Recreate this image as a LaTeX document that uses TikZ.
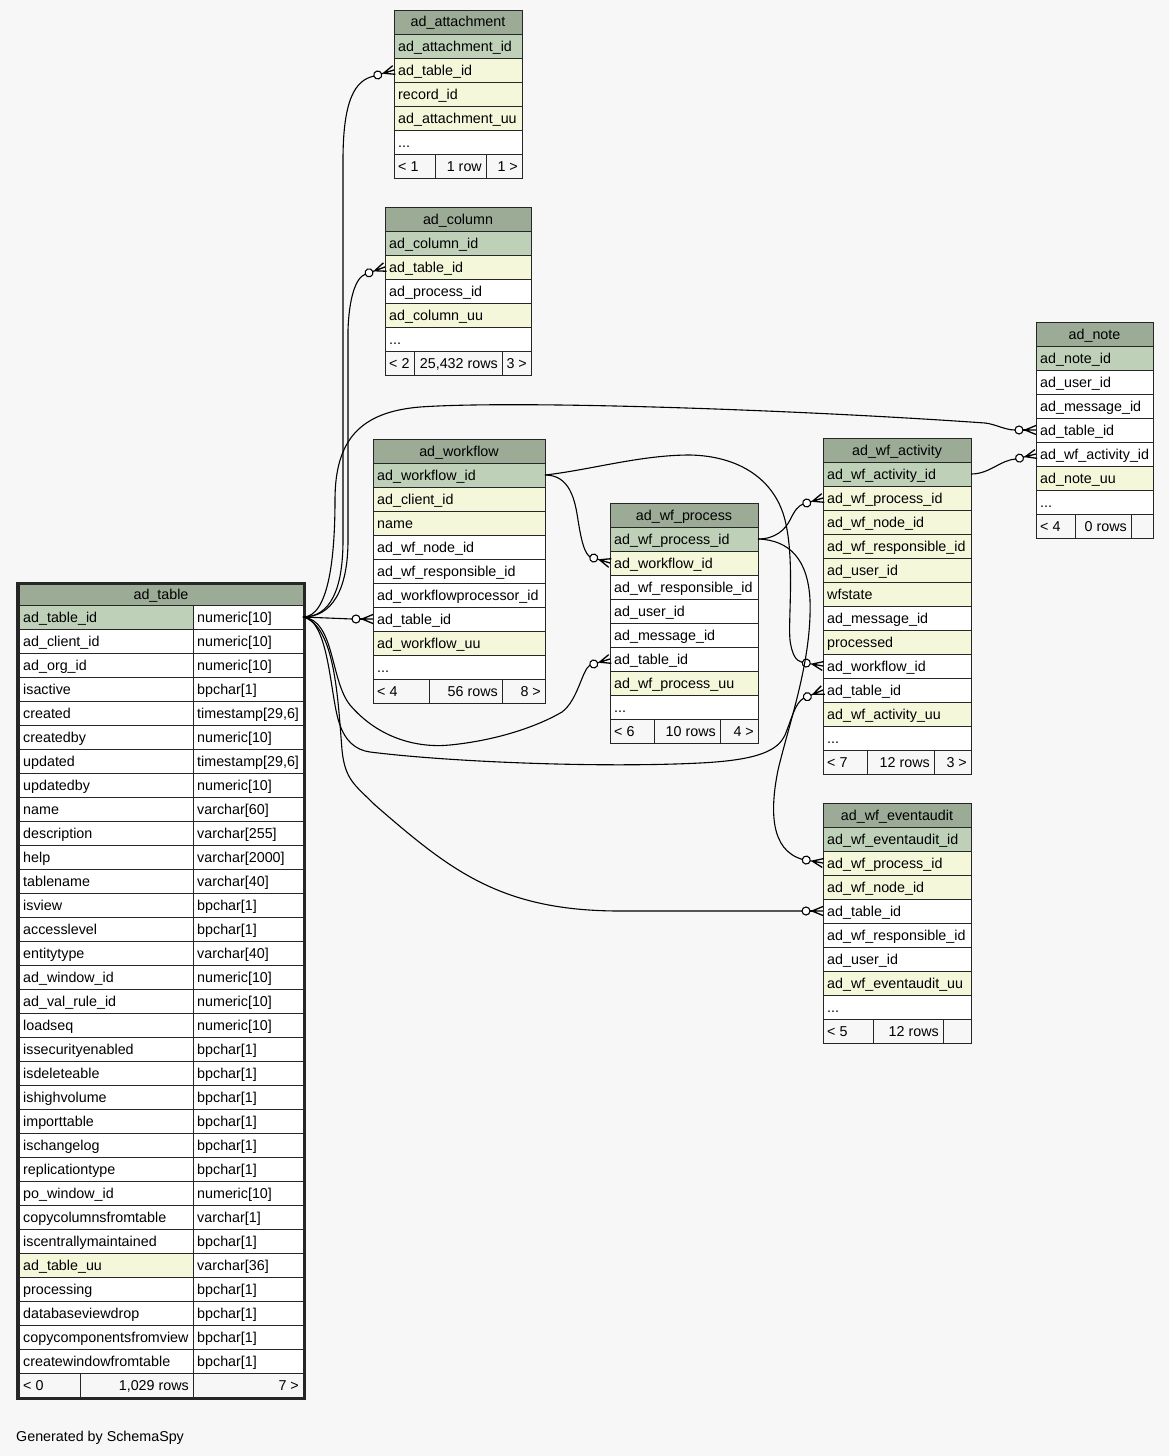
\documentclass[tikz,border=0pt]{standalone}
\usepackage{fontspec}
\setmainfont{Liberation Sans}
\definecolor{bg}{HTML}{F7F7F7}
\definecolor{hdr}{HTML}{9BAB96}
\definecolor{pk}{HTML}{BED1B8}
\definecolor{fk}{HTML}{F4F7DA}
\definecolor{lc}{HTML}{262626}
\tikzset{
  cellbox/.style={draw=lc, line width=1pt, minimum height=24, inner sep=0pt, outer sep=0pt},
  celltext/.style={inner sep=0pt, font=\fontsize{14.3}{16}\selectfont, text=black},
  rel/.style={draw=black, line width=1.1pt},
  crowline/.style={draw=black, line width=1.3pt}
}
\newcommand\tabhead[5]{%
  \node[cellbox,fill=hdr,minimum width=#3,anchor=west] (#4) at (#1,#2) {};
  \node[celltext,anchor=base] at ([yshift=-5pt]#4.center) {#5};}
\newcommand\tabrow[6]{%
  \node[cellbox,fill=#4,minimum width=#3,anchor=west] (#5) at (#1,#2) {};
  \node[celltext,anchor=base west] at ([xshift=4pt,yshift=-5pt]#5.west) {#6};}
\newcommand\tabfoot[9]{%
  \pgfmathsetmacro\fwa{#3-#1}\pgfmathsetmacro\fwb{#4-#3}\pgfmathsetmacro\fwc{#5-#4}%
  \node[cellbox,fill=bg,minimum width=\fwa,anchor=west] (#6a) at (#1,#2) {};
  \node[cellbox,fill=bg,minimum width=\fwb,anchor=west] (#6b) at (#3,#2) {};
  \node[cellbox,fill=bg,minimum width=\fwc,anchor=west] (#6c) at (#4,#2) {};
  \node[celltext,anchor=base west] at ([xshift=4pt,yshift=-5pt]#6a.west) {#7};
  \node[celltext,anchor=base east] at ([xshift=-4pt,yshift=-5pt]#6b.east) {#8};
  \node[celltext,anchor=base east] at ([xshift=-4pt,yshift=-5pt]#6c.east) {#9};}
\newcommand\trow[5]{%
  \tabrow{19}{#1}{174}{#4}{tn#5}{#2}%
  \tabrow{193}{#1}{110}{white}{tt#5}{#3}}
\newcommand\crowfoot[3]{%
  \begin{scope}[shift={(#1.west)},rotate=#2]
    \draw[rel] (-13,0) -- (-11,0);
    \draw[crowline] (-11,0) -- (0,-4.5) (-11,0) -- (0,0) (-11,0) -- (0,4.5);
    \draw[rel,fill=white] (-17,0) circle (4pt);
    \coordinate (#3) at (-21,0);
  \end{scope}}
\begin{document}
\begin{tikzpicture}[x=1pt,y=-1pt]
\fill[bg] (0,0) rectangle (1169,1456);

% ---------- ad_table ----------
\tabhead{19}{594}{284}{th}{ad\_table}
\trow{617}{ad\_table\_id}{numeric[10]}{pk}{1}
\trow{641}{ad\_client\_id}{numeric[10]}{white}{2}
\trow{665}{ad\_org\_id}{numeric[10]}{white}{3}
\trow{689}{isactive}{bpchar[1]}{white}{4}
\trow{713}{created}{timestamp[29,6]}{white}{5}
\trow{737}{createdby}{numeric[10]}{white}{6}
\trow{761}{updated}{timestamp[29,6]}{white}{7}
\trow{785}{updatedby}{numeric[10]}{white}{8}
\trow{809}{name}{varchar[60]}{white}{9}
\trow{833}{description}{varchar[255]}{white}{10}
\trow{857}{help}{varchar[2000]}{white}{11}
\trow{881}{tablename}{varchar[40]}{white}{12}
\trow{905}{isview}{bpchar[1]}{white}{13}
\trow{929}{accesslevel}{bpchar[1]}{white}{14}
\trow{953}{entitytype}{varchar[40]}{white}{15}
\trow{977}{ad\_window\_id}{numeric[10]}{white}{16}
\trow{1001}{ad\_val\_rule\_id}{numeric[10]}{white}{17}
\trow{1025}{loadseq}{numeric[10]}{white}{18}
\trow{1049}{issecurityenabled}{bpchar[1]}{white}{19}
\trow{1073}{isdeleteable}{bpchar[1]}{white}{20}
\trow{1097}{ishighvolume}{bpchar[1]}{white}{21}
\trow{1121}{importtable}{bpchar[1]}{white}{22}
\trow{1145}{ischangelog}{bpchar[1]}{white}{23}
\trow{1169}{replicationtype}{bpchar[1]}{white}{24}
\trow{1193}{po\_window\_id}{numeric[10]}{white}{25}
\trow{1217}{copycolumnsfromtable}{varchar[1]}{white}{26}
\trow{1241}{iscentrallymaintained}{bpchar[1]}{white}{27}
\trow{1265}{ad\_table\_uu}{varchar[36]}{fk}{28}
\trow{1289}{processing}{bpchar[1]}{white}{29}
\trow{1313}{databaseviewdrop}{bpchar[1]}{white}{30}
\trow{1337}{copycomponentsfromview}{bpchar[1]}{white}{31}
\trow{1361}{createwindowfromtable}{bpchar[1]}{white}{32}
\tabfoot{19}{1385}{80}{193}{303}{tf}{< 0}{1,029 rows}{7 >}
\draw[draw=lc, line width=3pt] (17.5,583.5) rectangle (304.5,1398.5);

% ---------- ad_attachment ----------
\tabhead{394}{22}{128}{att0}{ad\_attachment}
\tabrow{394}{46}{128}{pk}{att1}{ad\_attachment\_id}
\tabrow{394}{70}{128}{fk}{att2}{ad\_table\_id}
\tabrow{394}{94}{128}{fk}{att3}{record\_id}
\tabrow{394}{118}{128}{fk}{att4}{ad\_attachment\_uu}
\tabrow{394}{142}{128}{white}{att5}{...}
\tabfoot{394}{166}{435}{486}{522}{attf}{< 1}{1 row}{1 >}

% ---------- ad_column ----------
\tabhead{385}{219}{146}{col0}{ad\_column}
\tabrow{385}{243}{146}{pk}{col1}{ad\_column\_id}
\tabrow{385}{267}{146}{fk}{col2}{ad\_table\_id}
\tabrow{385}{291}{146}{white}{col3}{ad\_process\_id}
\tabrow{385}{315}{146}{fk}{col4}{ad\_column\_uu}
\tabrow{385}{339}{146}{white}{col5}{...}
\tabfoot{385}{363}{414}{502}{531}{colf}{< 2}{25,432 rows}{3 >}

% ---------- ad_workflow ----------
\tabhead{373}{451}{172}{wf0}{ad\_workflow}
\tabrow{373}{475}{172}{pk}{wf1}{ad\_workflow\_id}
\tabrow{373}{499}{172}{fk}{wf2}{ad\_client\_id}
\tabrow{373}{523}{172}{fk}{wf3}{name}
\tabrow{373}{547}{172}{white}{wf4}{ad\_wf\_node\_id}
\tabrow{373}{571}{172}{white}{wf5}{ad\_wf\_responsible\_id}
\tabrow{373}{595}{172}{white}{wf6}{ad\_workflowprocessor\_id}
\tabrow{373}{619}{172}{white}{wf7}{ad\_table\_id}
\tabrow{373}{643}{172}{fk}{wf8}{ad\_workflow\_uu}
\tabrow{373}{667}{172}{white}{wf9}{...}
\tabfoot{373}{691}{429}{502}{545}{wff}{< 4}{56 rows}{8 >}

% ---------- ad_wf_process ----------
\tabhead{610}{515}{148}{pr0}{ad\_wf\_process}
\tabrow{610}{539}{148}{pk}{pr1}{ad\_wf\_process\_id}
\tabrow{610}{563}{148}{fk}{pr2}{ad\_workflow\_id}
\tabrow{610}{587}{148}{white}{pr3}{ad\_wf\_responsible\_id}
\tabrow{610}{611}{148}{white}{pr4}{ad\_user\_id}
\tabrow{610}{635}{148}{white}{pr5}{ad\_message\_id}
\tabrow{610}{659}{148}{white}{pr6}{ad\_table\_id}
\tabrow{610}{683}{148}{fk}{pr7}{ad\_wf\_process\_uu}
\tabrow{610}{707}{148}{white}{pr8}{...}
\tabfoot{610}{731}{654}{720}{758}{prf}{< 6}{10 rows}{4 >}

% ---------- ad_note ----------
\tabhead{1036}{334}{117}{no0}{ad\_note}
\tabrow{1036}{358}{117}{pk}{no1}{ad\_note\_id}
\tabrow{1036}{382}{117}{white}{no2}{ad\_user\_id}
\tabrow{1036}{406}{117}{white}{no3}{ad\_message\_id}
\tabrow{1036}{430}{117}{white}{no4}{ad\_table\_id}
\tabrow{1036}{454}{117}{white}{no5}{ad\_wf\_activity\_id}
\tabrow{1036}{478}{117}{fk}{no6}{ad\_note\_uu}
\tabrow{1036}{502}{117}{white}{no7}{...}
\tabfoot{1036}{526}{1075}{1131}{1153}{nof}{< 4}{0 rows}{}

% ---------- ad_wf_activity ----------
\tabhead{823}{450}{148}{ac0}{ad\_wf\_activity}
\tabrow{823}{474}{148}{pk}{ac1}{ad\_wf\_activity\_id}
\tabrow{823}{498}{148}{fk}{ac2}{ad\_wf\_process\_id}
\tabrow{823}{522}{148}{fk}{ac3}{ad\_wf\_node\_id}
\tabrow{823}{546}{148}{fk}{ac4}{ad\_wf\_responsible\_id}
\tabrow{823}{570}{148}{fk}{ac5}{ad\_user\_id}
\tabrow{823}{594}{148}{fk}{ac6}{wfstate}
\tabrow{823}{618}{148}{white}{ac7}{ad\_message\_id}
\tabrow{823}{642}{148}{fk}{ac8}{processed}
\tabrow{823}{666}{148}{white}{ac9}{ad\_workflow\_id}
\tabrow{823}{690}{148}{white}{ac10}{ad\_table\_id}
\tabrow{823}{714}{148}{fk}{ac11}{ad\_wf\_activity\_uu}
\tabrow{823}{738}{148}{white}{ac12}{...}
\tabfoot{823}{762}{867}{934}{971}{acf}{< 7}{12 rows}{3 >}

% ---------- ad_wf_eventaudit ----------
\tabhead{823}{815}{148}{ev0}{ad\_wf\_eventaudit}
\tabrow{823}{839}{148}{pk}{ev1}{ad\_wf\_eventaudit\_id}
\tabrow{823}{863}{148}{fk}{ev2}{ad\_wf\_process\_id}
\tabrow{823}{887}{148}{fk}{ev3}{ad\_wf\_node\_id}
\tabrow{823}{911}{148}{white}{ev4}{ad\_table\_id}
\tabrow{823}{935}{148}{white}{ev5}{ad\_wf\_responsible\_id}
\tabrow{823}{959}{148}{white}{ev6}{ad\_user\_id}
\tabrow{823}{983}{148}{fk}{ev7}{ad\_wf\_eventaudit\_uu}
\tabrow{823}{1007}{148}{white}{ev8}{...}
\tabfoot{823}{1031}{873}{943}{971}{evf}{< 5}{12 rows}{}

% ---------- crow's feet ----------
\crowfoot{att2}{17}{c1}
\crowfoot{col2}{20}{c2}
\crowfoot{wf7}{0}{c3}
\crowfoot{pr6}{17}{c4}
\crowfoot{no4}{0}{c5}
\crowfoot{ac10}{23}{c6}
\crowfoot{ev4}{0}{c7}
\crowfoot{pr2}{-17}{c8}
\crowfoot{ac9}{-10}{c9}
\crowfoot{ac2}{17}{c10}
\crowfoot{ev2}{-10}{c11}
\crowfoot{no5}{14}{c12}

% ---------- relationships ----------
\draw[rel] (tt1.east) .. controls (330,617) and (343,590) .. (343,540) -- (343,160) .. controls (343,100) and (355,80) .. (c1);
\draw[rel] (tt1.east) .. controls (332,617) and (348,590) .. (348,540) -- (348,330) .. controls (349,300) and (355,278) .. (c2);
\draw[rel] (tt1.east) -- (c3);
\draw[rel] (tt1.east) .. controls (335,620) and (330,680) .. (350,705) .. controls (380,740) and (420,748) .. (450,745) .. controls (500,740) and (540,725) .. (562,712) .. controls (578,700) and (582,670) .. (c4);
\draw[rel] (tt1.east) .. controls (328,617) and (335,560) .. (335,500) .. controls (335,440) and (360,412) .. (420,407) .. controls (520,400) and (800,410) .. (985,423) .. controls (995,424) and (1005,430) .. (c5);
\draw[rel] (tt1.east) .. controls (330,620) and (330,700) .. (340,725) .. controls (345,740) and (355,750) .. (370,752) .. controls (450,762) and (600,768) .. (700,763) .. controls (760,760) and (778,750) .. (785,735) .. controls (792,718) and (795,703) .. (c6);
\draw[rel] (tt1.east) .. controls (335,625) and (338,700) .. (342,750) .. controls (345,780) and (355,785) .. (375,805) .. controls (450,870) and (500,911) .. (620,911) -- (c7);
\draw[rel] (wf1.east) .. controls (570,475) and (575,500) .. (578,520) .. controls (582,545) and (585,553) .. (c8);
\draw[rel] (wf1.east) .. controls (590,470) and (640,455) .. (690,455) .. controls (740,456) and (775,480) .. (785,520) .. controls (795,560) and (788,620) .. (790,640) .. controls (792,655) and (796,661) .. (c9);
\draw[rel] (pr1.east) .. controls (775,539) and (785,530) .. (790,520) .. controls (795,510) and (798,506) .. (c10);
\draw[rel] (pr1.east) .. controls (790,540) and (808,560) .. (810,600) .. controls (812,660) and (790,720) .. (778,770) .. controls (770,810) and (770,850) .. (c11);
\draw[rel] (ac1.east) .. controls (990,474) and (1000,460) .. (c12);

\node[celltext,anchor=base west] (gen) at (16,1441) {Generated by SchemaSpy};
\end{tikzpicture}
\end{document}
